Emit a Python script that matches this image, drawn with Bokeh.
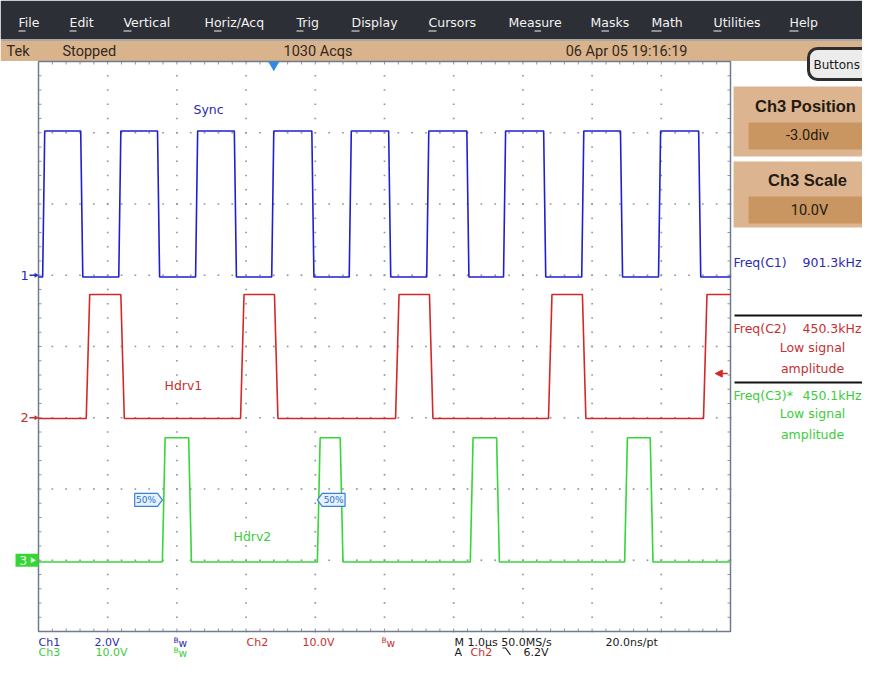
import numpy as np
from bokeh.plotting import figure
from bokeh.models import Range1d, Arrow, NormalHead, BoxAnnotation, Label
from bokeh.core.properties import value
from bokeh.embed import file_html
from bokeh.resources import INLINE

# ---------------- data ----------------
channel_names = ["Ch1", "Ch2", "Ch3"]
trace_labels = ["Sync", "Hdrv1", "Hdrv2"]
volts_per_div = [2.0, 10.0, 10.0]
position_div = [1.0, -1.0, -3.0]
time_per_div_us = 1.0

ch1_edges_us = [0.06, 0.61, 1.16, 1.72, 2.27, 2.83, 3.37, 3.95, 4.49,
                5.06, 5.61, 6.19, 6.72, 7.30, 7.85, 8.41, 8.96, 9.54]
ch1_levels_v = [-0.05, 4.05]
ch2_edges_us = [0.69, 1.19, 2.92, 3.41, 5.16, 5.65, 7.37, 7.86, 9.61]
ch2_levels_v = [-0.1, 17.3]
ch3_edges_us = [1.79, 2.17, 4.03, 4.36, 6.24, 6.62, 8.47, 8.84]
ch3_levels_v = [-0.25, 17.2]

trigger_level_v = 6.2          # on Ch2
trigger_pos_us = 3.40

menu_items = ["File", "Edit", "Vertical", "Horiz/Acq", "Trig", "Display",
              "Cursors", "Measure", "Masks", "Math", "Utilities", "Help"]
freq_labels = ["Freq(C1)", "Freq(C2)", "Freq(C3)*"]
freq_values = ["901.3kHz", "450.3kHz", "450.1kHz"]
scale_labels = ["2.0V", "10.0V", "10.0V"]

# ---------------- layout constants (pixels) ----------------
W, H = 862, 660
GX0, GX1, GY0, GY1 = 38, 730, 61, 631
HDIV, VDIV = 10, 8
ppx = (GX1 - GX0) / HDIV
ppy = (GY1 - GY0) / VDIV
CY = (GY0 + GY1) / 2

TRACE = ["#1e1ed2", "#d42828", "#36d636"]
TEXTC = ["#2b2bb0", "#c83030", "#3ccc3c"]
GRID = "#8e94a4"
FONT = value("DejaVu Sans")
NARROW = value("Roboto")

p = figure(width=W, height=H, x_range=Range1d(0, W), y_range=Range1d(H, 0),
           output_backend="svg", toolbar_location=None, x_axis_type=None, y_axis_type=None,
           min_border=0, outline_line_color=None)
p.background_fill_color = "white"
p.border_fill_color = "white"
p.extra_x_ranges = {"t": Range1d((0 - GX0) / ppx * time_per_div_us, (W - GX0) / ppx * time_per_div_us)}
p.extra_y_ranges = {"d": Range1d((CY - H) / ppy, (CY - 0) / ppy)}
T = dict(x_range_name="t", y_range_name="d")

# ---------------- menu + status bar ----------------
p.quad(left=0, right=W, top=0, bottom=38.5, fill_color="#2c2f35", line_color=None)
p.quad(left=0, right=W, top=38.5, bottom=40.5, fill_color="#a8a8a8", line_color=None)
p.quad(left=0, right=W, top=40.5, bottom=60.5, fill_color="#d9b38c", line_color=None)
menu_x = [18, 69, 123, 204, 296, 351, 428, 508, 590, 651, 713, 789]
p.text(x=menu_x, y=[22] * len(menu_x), text=menu_items, text_font=FONT,
       text_font_size=value("12.5px"), text_color="#f2f2f2", text_baseline="middle")
ul0 = [18, 69, 123, 213.5, 296, 351, 428, 534, 601, 651, 713, 789]
ul1 = [25, 76, 131, 221, 303, 359, 436, 540.5, 608.5, 661, 721, 798]
p.segment(x0=ul0, x1=ul1, y0=[30.5] * 12, y1=[30.5] * 12, line_color="#f2f2f2", line_width=1)

p.text(x=[6, 62, 283], y=[50.5] * 3, text=["Tek", "Stopped", "1030 Acqs"], text_font=NARROW,
       text_font_size=value("14.5px"), text_color="#33281c", text_baseline="middle")
p.text(x=[687], y=[50.5], text=["06 Apr 05 19:16:19"], text_font=NARROW,
       text_font_size=value("14.5px"), text_color="#33281c", text_baseline="middle", text_align="right")

# Buttons
p.add_layout(BoxAnnotation(left=808, right=878, top=48, bottom=79, border_radius=9,
                           fill_color="#ececec", fill_alpha=1, line_color="#2e2e2e",
                           line_alpha=1, line_width=3))
p.add_layout(Label(x=813, y=64, text="Buttons", text_font="DejaVu Sans", text_font_size="12px",
                   text_color="#1a1a1a", text_baseline="middle"))

# ---------------- right control panel ----------------
p.quad(left=[733, 733], right=[W, W], top=[86, 161], bottom=[156, 227],
       fill_color="#dcb590", line_color=None)
p.quad(left=[748, 748], right=[W, W], top=[122, 196], bottom=[149, 223],
       fill_color="#c99560", line_color=None)
p.text(x=[805, 807], y=[105, 179], text=["Ch3 Position", "Ch3 Scale"], text_font=value("Liberation Sans"),
       text_font_style="bold", text_font_size=value("16.5px"), text_color="#241a10",
       text_baseline="middle", text_align="center")
p.text(x=[807, 809], y=[135, 209.5], text=["-3.0div", "10.0V"], text_font=NARROW,
       text_font_size=value("14.5px"), text_color="#241a10", text_baseline="middle", text_align="center")

# measurements
p.segment(x0=[734, 734], x1=[W, W], y0=[315, 382], y1=[315, 382], line_color="#111111", line_width=2)
p.text(x=[733] * 3, y=[262, 328, 395], text=freq_labels, text_font=FONT, text_font_size=value("12.5px"),
       text_color=TEXTC, text_baseline="middle")
p.text(x=[861] * 3, y=[262, 328, 395], text=freq_values, text_font=FONT, text_font_size=value("12.5px"),
       text_color=TEXTC, text_baseline="middle", text_align="right")
p.text(x=[812] * 4, y=[347, 368, 413, 434], text=["Low signal", "amplitude", "Low signal", "amplitude"],
       text_font=FONT, text_font_size=value("12.5px"), text_color=[TEXTC[1], TEXTC[1], TEXTC[2], TEXTC[2]],
       text_baseline="middle", text_align="center")

# ---------------- graticule ----------------
sub_t = np.round(np.arange(0, HDIV + 1e-9, 0.2), 3)
sub_d = np.round(np.arange(-VDIV / 2, VDIV / 2 + 1e-9, 0.2), 3)
vx, vy = [], []
for gt in range(1, HDIV):
    vx += [gt] * len(sub_d); vy += list(sub_d)
for gd in range(-VDIV // 2 + 1, VDIV // 2):
    vx += list(sub_t); vy += [gd] * len(sub_t)
p.scatter(x=vx, y=vy, marker="square", size=1.7, fill_color=GRID, line_color=None, **T)
tk_t = 3 / ppx
tk_d = 3 / ppy
p.segment(x0=list(sub_t), x1=list(sub_t), y0=[4] * len(sub_t), y1=[4 - tk_d] * len(sub_t),
          line_color=GRID, line_width=1, **T)
p.segment(x0=list(sub_t), x1=list(sub_t), y0=[-4] * len(sub_t), y1=[-4 + tk_d] * len(sub_t),
          line_color=GRID, line_width=1, **T)
p.segment(x0=[0] * len(sub_d), x1=[tk_t] * len(sub_d), y0=list(sub_d), y1=list(sub_d),
          line_color=GRID, line_width=1, **T)
p.segment(x0=[HDIV] * len(sub_d), x1=[HDIV - tk_t] * len(sub_d), y0=list(sub_d), y1=list(sub_d),
          line_color=GRID, line_width=1, **T)
p.line(x=[0, HDIV, HDIV, 0, 0], y=[4, 4, -4, -4, 4], line_color="#6f7b90", line_width=1.5, **T)

# ---------------- traces ----------------
def step_trace(edges, levels, rise):
    lvl = 0
    xs, ys = [0.0], [levels[0]]
    for e in edges:
        xs.append(e); ys.append(levels[lvl])
        lvl = 1 - lvl
        xs.append(e + rise); ys.append(levels[lvl])
    xs.append(HDIV * time_per_div_us); ys.append(levels[lvl])
    return xs, ys

for i, (edges, levels, rise) in enumerate([(ch1_edges_us, ch1_levels_v, 0.03),
                                           (ch2_edges_us, ch2_levels_v, 0.05),
                                           (ch3_edges_us, ch3_levels_v, 0.04)]):
    xs, ys = step_trace(edges, levels, rise)
    dv = [position_div[i] + v / volts_per_div[i] for v in ys]
    p.line(x=xs, y=dv, line_color=TRACE[i], line_width=1.6, **T)

# trace labels
p.text(x=[193, 164, 233], y=[109, 385, 536], text=trace_labels, text_font=FONT,
       text_font_size=value("12.5px"), text_color=TEXTC, text_baseline="middle")

# channel ground markers
p.text(x=[20, 20], y=position_div[:2], text=["1", "2"], text_font=FONT, text_font_size=value("13px"),
       text_color=TEXTC[:2], text_baseline="middle", y_range_name="d")
p.segment(x0=[29, 29], x1=[35, 35], y0=position_div[:2], y1=position_div[:2], line_color=TEXTC[:2],
          line_width=1.3, y_range_name="d")
p.scatter(x=[35.5, 35.5], y=position_div[:2], marker="triangle", angle=-np.pi / 2, size=5,
          fill_color=TEXTC[:2], line_color=None, y_range_name="d")
p.quad(left=[15], right=[38], top=[position_div[2] + 0.09], bottom=[position_div[2] - 0.09],
       fill_color=TRACE[2], line_color=None, y_range_name="d")
p.text(x=[19], y=[position_div[2]], text=["3"], text_font=FONT, text_font_size=value("12px"),
       text_color="#e8ffe8", text_baseline="middle", y_range_name="d")
p.scatter(x=[32], y=[position_div[2]], marker="triangle", angle=-np.pi / 2, size=6,
          fill_color="#e8ffe8", line_color=None, y_range_name="d")

# trigger position & level
p.scatter(x=[trigger_pos_us], y=[64.5], marker="inverted_triangle", size=11,
          fill_color="#2d8ae6", line_color=None, x_range_name="t")
trig_d = position_div[1] + trigger_level_v / volts_per_div[1]
p.add_layout(Arrow(end=NormalHead(size=7, fill_color=TRACE[1], line_color=TRACE[1]),
                   x_start=HDIV - 0.04, x_end=HDIV - 0.22, y_start=trig_d, y_end=trig_d,
                   line_color=TRACE[1], line_width=1.5, x_range_name="t", y_range_name="d"))

# 50% measurement markers on Ch3 rising edges
mid_d = position_div[2] + (ch3_levels_v[0] + ch3_levels_v[1]) / 2 / volts_per_div[2]
hh = 0.09
for edge, sgn in [(ch3_edges_us[0], -1), (ch3_edges_us[2], 1)]:
    xs = [edge, edge + sgn * 0.07, edge + sgn * 0.40, edge + sgn * 0.40, edge + sgn * 0.07]
    ys = [mid_d, mid_d + hh, mid_d + hh, mid_d - hh, mid_d - hh]
    p.patch(x=xs, y=ys, fill_color="#e6f2ff", line_color="#3a7fd8", line_width=1.2, **T)
    p.text(x=[edge + sgn * 0.235], y=[mid_d], text=["50%"], text_font=FONT, text_font_size=value("9px"),
           text_color="#2a6fd0", text_baseline="middle", text_align="center", **T)

# ---------------- bottom readouts ----------------
L1, L2 = 641.5, 651.5
BFS = value("11px")
p.text(x=[38, 94, 246, 302, 38, 95], y=[L1, L1, L1, L1, L2, L2],
       text=["Ch1", scale_labels[0], "Ch2", scale_labels[1], "Ch3", scale_labels[2]],
       text_font=FONT, text_font_size=BFS,
       text_color=[TEXTC[0], TEXTC[0], TEXTC[1], TEXTC[1], TEXTC[2], TEXTC[2]], text_baseline="middle")
bw_x = [173, 381, 173]
bw_y = [L1, L1, L2]
p.text(x=bw_x, y=[y - 2 for y in bw_y], text=["B"] * 3, text_font=FONT, text_font_size=value("7.5px"),
       text_color=TEXTC[0:2] + [TEXTC[2]], text_baseline="middle")
p.text(x=[x + 5 for x in bw_x], y=[y + 1 for y in bw_y], text=["w"] * 3, text_font=FONT,
       text_font_size=value("10.5px"), text_color=TEXTC[0:2] + [TEXTC[2]], text_baseline="middle")
p.text(x=[454, 605, 454, 523], y=[L1, L1, L2, L2],
       text=["M 1.0\u00b5s 50.0MS/s", "20.0ns/pt", "A", "6.2V"], text_font=FONT,
       text_font_size=BFS, text_color="#1a1a1a", text_baseline="middle")
p.text(x=[470], y=[L2], text=["Ch2"], text_font=FONT, text_font_size=BFS,
       text_color=TEXTC[1], text_baseline="middle")
p.line(x=[502, 505, 510], y=[L2 - 4, L2 - 4, L2 + 3], line_color="#1a1a1a", line_width=1.2)

open("out.html", "w").write(file_html(p, INLINE))
